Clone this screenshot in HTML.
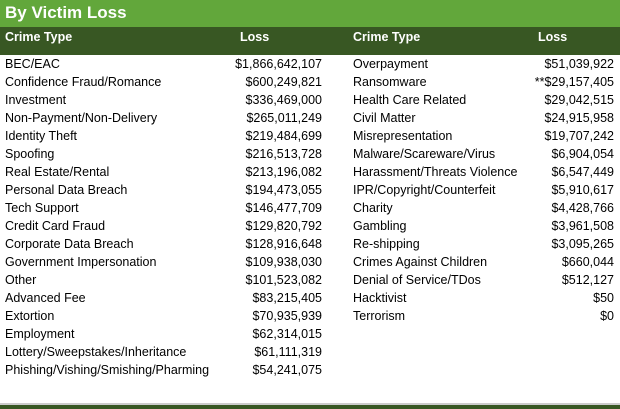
<!DOCTYPE html>
<html><head><style>
body{margin:0;width:620px;height:409px;background:#fff;position:relative;overflow:hidden;font-family:"Liberation Sans",sans-serif;}
.title{position:absolute;left:0;top:0;width:620px;height:27px;background:#62a73b;color:#fff;font-weight:bold;font-size:17px;line-height:26px;padding-left:5px;box-sizing:border-box;}
.head{position:absolute;left:0;top:27px;width:620px;height:28px;background:#385723;}
.h{position:absolute;top:30px;color:#fff;font-weight:bold;font-size:12.5px;}
.r{position:absolute;font-size:12.5px;color:#000;white-space:nowrap;line-height:18px;}
.bot{position:absolute;left:0;top:405px;width:620px;height:4px;background:#385723;}
.gl{position:absolute;left:0;top:403px;width:620px;height:2px;background:#ccc;}
</style></head><body>
<div class="title">By Victim Loss</div>
<div class="head"></div>
<div class="h" style="left:5px">Crime Type</div>
<div class="h" style="left:240px">Loss</div>
<div class="h" style="left:353px">Crime Type</div>
<div class="h" style="left:538px">Loss</div>
<div id="rows"></div>
<div class="gl"></div><div class="bot"></div>
<script>
var L=[["BEC/EAC","$1,866,642,107"],["Confidence Fraud/Romance","$600,249,821"],["Investment","$336,469,000"],["Non-Payment/Non-Delivery","$265,011,249"],["Identity Theft","$219,484,699"],["Spoofing","$216,513,728"],["Real Estate/Rental","$213,196,082"],["Personal Data Breach","$194,473,055"],["Tech Support","$146,477,709"],["Credit Card Fraud","$129,820,792"],["Corporate Data Breach","$128,916,648"],["Government Impersonation","$109,938,030"],["Other","$101,523,082"],["Advanced Fee","$83,215,405"],["Extortion","$70,935,939"],["Employment","$62,314,015"],["Lottery/Sweepstakes/Inheritance","$61,111,319"],["Phishing/Vishing/Smishing/Pharming","$54,241,075"]];
var R=[["Overpayment","$51,039,922"],["Ransomware","**$29,157,405"],["Health Care Related","$29,042,515"],["Civil Matter","$24,915,958"],["Misrepresentation","$19,707,242"],["Malware/Scareware/Virus","$6,904,054"],["Harassment/Threats Violence","$6,547,449"],["IPR/Copyright/Counterfeit","$5,910,617"],["Charity","$4,428,766"],["Gambling","$3,961,508"],["Re-shipping","$3,095,265"],["Crimes Against Children","$660,044"],["Denial of Service/TDos","$512,127"],["Hacktivist","$50"],["Terrorism","$0"]];
var h="";
L.forEach(function(r,i){var t=55+i*18;h+='<div class="r" style="left:5px;top:'+t+'px">'+r[0]+'</div><div class="r" style="right:298px;top:'+t+'px">'+r[1]+'</div>';});
R.forEach(function(r,i){var t=55+i*18;h+='<div class="r" style="left:353px;top:'+t+'px">'+r[0]+'</div><div class="r" style="right:6px;top:'+t+'px">'+r[1]+'</div>';});
document.getElementById("rows").innerHTML=h;
</script>
</body></html>
